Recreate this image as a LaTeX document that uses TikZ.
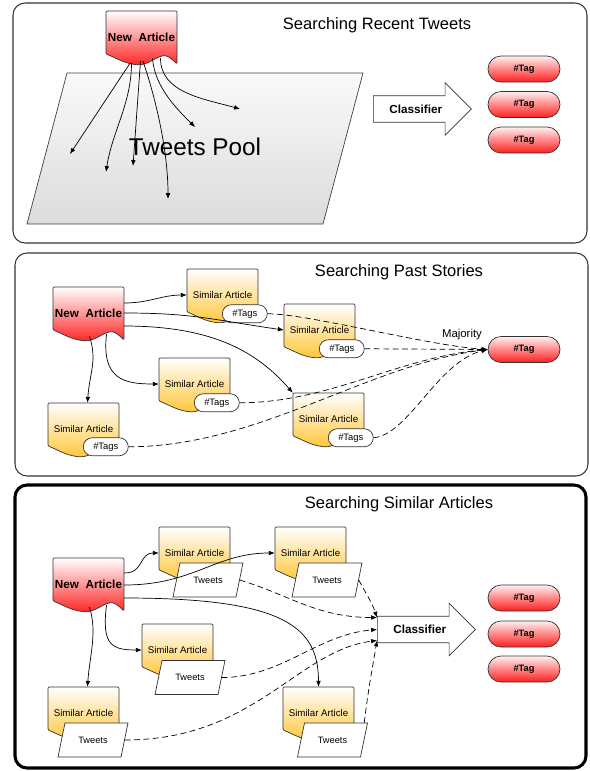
\documentclass[tikz,border=0pt]{standalone}
\usepackage{fontspec}
\setmainfont{Liberation Sans}
\usepackage{tikz}
\usetikzlibrary{calc,arrows.meta,shapes.misc,shapes.arrows}
\definecolor{docred}{RGB}{255,30,30}
\definecolor{docgold}{RGB}{255,196,50}
\def\artdoc#1(#2)#3#4{\begin{scope}[shift={(#2)}]
	\draw[#3doc] (0,43) -- (0,0) -- (71,0) -- (71,53) .. controls (64,46) and (60,44) .. (56,45) .. controls (46,48) and (40,56) .. (26,53) .. controls (16,51) and (8,46) .. (0,43) -- cycle;
	\node[#3box] (#1) at (35.5,26) {#4};
	\end{scope}}
\def\tweetdoc#1(#2){\begin{scope}[shift={(#2)}]
	\draw[tweetshape] (-28,-17) -- (35,-17) -- (28,17) -- (-35,17) -- cycle;
	\node[tweetbox] (#1) at (0,0) {Tweets};
	\end{scope}}
\tikzset{
	panel/.style={draw=black!80, line width=0.9pt, rounded corners=0.36cm},
	panelbold/.style={draw=black, line width=2.6pt, rounded corners=0.36cm},
	title/.style={font=\fontsize{14.1}{16}\selectfont},
	newdoc/.style={draw=black!80, line width=0.6pt, rounded corners=1pt, top color=white, bottom color=docred},
	simdoc/.style={draw=black!80, line width=0.6pt, rounded corners=1pt, top color=white, bottom color=docgold},
	newbox/.style={minimum width=2.13cm, minimum height=1.56cm, inner sep=0pt, font=\bfseries\fontsize{10}{12}\selectfont},
	simbox/.style={minimum width=2.13cm, minimum height=1.56cm, inner sep=0pt, font=\fontsize{8.3}{10}\selectfont},
	tagpill/.style={rounded rectangle, draw=black!80, line width=0.6pt, top color=red!6, bottom color=docred, minimum width=2.16cm, minimum height=0.78cm, inner sep=0pt, font=\bfseries\fontsize{7.9}{9}\selectfont},
	tagspill/.style={rounded rectangle, draw=black!80, line width=0.6pt, fill=white, minimum width=1.35cm, minimum height=0.54cm, inner sep=0pt, font=\fontsize{8}{9}\selectfont},
	tweetshape/.style={draw=black!80, line width=0.6pt, fill=white},
	tweetbox/.style={minimum width=1.89cm, minimum height=1.02cm, inner sep=0pt, font=\fontsize{7.9}{9}\selectfont},
	poolshape/.style={draw=black!75, line width=0.6pt, top color=black!2, bottom color=black!14},
	poolbox/.style={inner sep=0pt, font=\fontsize{20.7}{24}\selectfont},
	classif/.style={single arrow, draw=black!80, line width=0.6pt, fill=white, minimum height=2.94cm, single arrow head extend=0.39cm, inner xsep=4pt, inner ysep=7.5pt, text height=7pt, text depth=0pt, font=\bfseries\fontsize{10}{12}\selectfont},
	note/.style={font=\fontsize{9.7}{11}\selectfont},
	arr/.style={-{Latex[length=5pt,width=4pt]}, line width=0.6pt},
	darr/.style={arr, dash pattern=on 5pt off 3pt},
}

\begin{document}
\begin{tikzpicture}[x=0.03cm, y=-0.03cm]
			%%%%% START %%%%%
			\useasboundingbox (0,0) rectangle (590,771);
			
			%%%%% recent tweets
			\draw[panel] (13,3) rectangle (587,243);
			\node[title] (t1) at (377,25) {Searching Recent Tweets};
			\draw[poolshape] (67,73) -- (363,73) -- (323,224) -- (27,224) -- cycle;
			\node[poolbox] (pool) at (195,147) {Tweets Pool};
			\artdoc{na1}(106,11){new}{New~~Article}
			
			\node[classif, anchor=tail] (cl1) at (373,109) {Classifier};
			\node[tagpill] (tg1) at (524,69) {\#Tag};
			\node[tagpill] (tg2) at (524,104.5) {\#Tag};
			\node[tagpill] (tg3) at (524,140) {\#Tag};
			
			\coordinate (p1) at (70,154);
			\coordinate (p2) at (106,172);
			\coordinate (p3) at (133,166);
			\coordinate (p4) at (168,199);
			\coordinate (p5) at (195,127);
			\coordinate (p6) at (240,109);
			\draw[arr] ($(na1.south)+(-11.5,0)$) -- (p1);
			\draw[arr] ($(na1.south)+(-10,0)$) .. controls +(0,40) and +(6,-40) .. (p2);
			\draw[arr] ($(na1.south)+(-1,-2)$) -- (p3);
			\draw[arr] ($(na1.south)+(1.5,-2)$) .. controls +(12,35) and +(0,-50) .. (p4);
			\draw[arr] ($(na1.south)+(11,-5)$) .. controls +(2,30) and +(-15,-15) .. (p5);
			\draw[arr] ($(na1.south)+(19,-5)$) .. controls +(0,35) and +(-35,-10) .. (p6);
			
			%%%%% past stories
			\draw[panel] (15,253) rectangle (588,476);
			\node[title] (t2) at (399,272) {Searching Past Stories};
			\artdoc{na2}(53,287){new}{New~~Article}
			\artdoc{sa1}(187,269){sim}{Similar Article}
			\node[tagspill] (g1) at ($(sa1.north west)+(58,45)$) {\#Tags};
			\artdoc{sa2}(284,304){sim}{Similar Article}
			\node[tagspill] (g2) at ($(sa2.north west)+(58,45)$) {\#Tags};
			\artdoc{sa3}(159,358){sim}{Similar Article}
			\node[tagspill] (g3) at ($(sa3.north west)+(58,45)$) {\#Tags};
			\artdoc{sa4}(48,403){sim}{Similar Article}
			\node[tagspill] (g4) at ($(sa4.north west)+(58,44)$) {\#Tags};
			\artdoc{sa5}(293,393){sim}{Similar Article}
			\node[tagspill] (g5) at ($(sa5.north west)+(58,45)$) {\#Tags};
			
			\node[tagpill] (tg4) at (524,349.5) {\#Tag};
			\node[note] (maj) at (462,335) {Majority};
			
			\draw[arr] ($(na2.east)+(0,-10)$) .. controls +(25,0) and +(-25,0) .. (sa1.west);
			\draw[arr] (na2.east) .. controls +(70,0) and +(-70,-10) .. (sa2.west);
			\draw[arr] ($(na2.east)+(0,13)$) .. controls +(90,0) and +(-35,-40) .. (sa5.north west);
			\draw[arr] ($(na2.south)+(1,-3)$) .. controls +(8,25) and +(2,-30) .. ($(sa4.north)+(4,0)$);
			\draw[arr] ($(na2.south)+(18,-5)$) .. controls +(-5,45) and +(-35,0) .. (sa3.west);
			
			\draw[darr] (g1.east) .. controls +(40,0) and +(-60,-4) .. (tg4.west);
			\draw[darr] (g2.east) -- (tg4.west);
			\draw[darr] (g3.east) .. controls +(90,0) and +(-90,8) .. (tg4.west);
			\draw[darr] (g4.east) .. controls +(130,0) and +(-120,15) .. (tg4.west);
			\draw[darr] (g5.east) .. controls +(35,-3) and +(-50,12) .. (tg4.west);
			
			%%%%% similar articles
			\draw[panelbold] (15,485) rectangle (586,768);
			\node[title] (t3) at (399,504) {Searching Similar Articles};
			\artdoc{na3}(53,558){new}{New~~Article}
			\artdoc{sb1}(159,527){sim}{Similar Article}
			\tweetdoc{w1}(208,580)
			\artdoc{sb2}(275,527){sim}{Similar Article}
			\tweetdoc{w2}(327,580)
			\artdoc{sb3}(142,624){sim}{Similar Article}
			\tweetdoc{w3}(190,677.5)
			\artdoc{sb4}(48,687){sim}{Similar Article}
			\tweetdoc{w4}(93,740)
			\artdoc{sb5}(283,687){sim}{Similar Article}
			\tweetdoc{w5}(332.5,740)
			
			\node[classif, anchor=tail] (cl3) at (377,629.5) {Classifier};
			\node[tagpill] (tg5) at (524,598) {\#Tag};
			\node[tagpill] (tg6) at (524,634) {\#Tag};
			\node[tagpill] (tg7) at (524,669) {\#Tag};
			
			\draw[arr] ($(na3.east)+(0,-11)$) .. controls +(20,0) and +(-20,0) .. (sb1.west);
			\draw[arr] ($(na3.east)+(0,1)$) .. controls +(70,0) and +(-60,0) .. (sb2.west);
			\draw[arr] ($(na3.east)+(0,14)$) .. controls +(160,0) and +(0,-60) .. (sb5.north);
			\draw[arr] ($(na3.south)+(1,-3)$) .. controls +(8,25) and +(2,-30) .. ($(sb4.north)+(4,0)$);
			\draw[arr] ($(na3.south)+(18,-5)$) .. controls +(-5,40) and +(-30,0) .. (sb3.west);
			
			\draw[darr] (w1.east) .. controls +(50,15) and +(-60,0) .. ($(cl3.tail)+(0,-12)$);
			\draw[darr] (w2.east) .. controls +(8,15) and +(-5,-15) .. ($(cl3.tail)+(0,-12)$);
			\draw[darr] (w3.east) .. controls +(60,0) and +(-60,5) .. (cl3.tail);
			\draw[darr] (w4.east) .. controls +(130,0) and +(-80,10) .. ($(cl3.tail)+(0,11)$);
			\draw[darr] (w5.north east) .. controls +(5,-40) and +(-5,30) .. ($(cl3.tail)+(0,11)$);
			
			%%%%% END %%%%%
\end{tikzpicture}
\end{document}
